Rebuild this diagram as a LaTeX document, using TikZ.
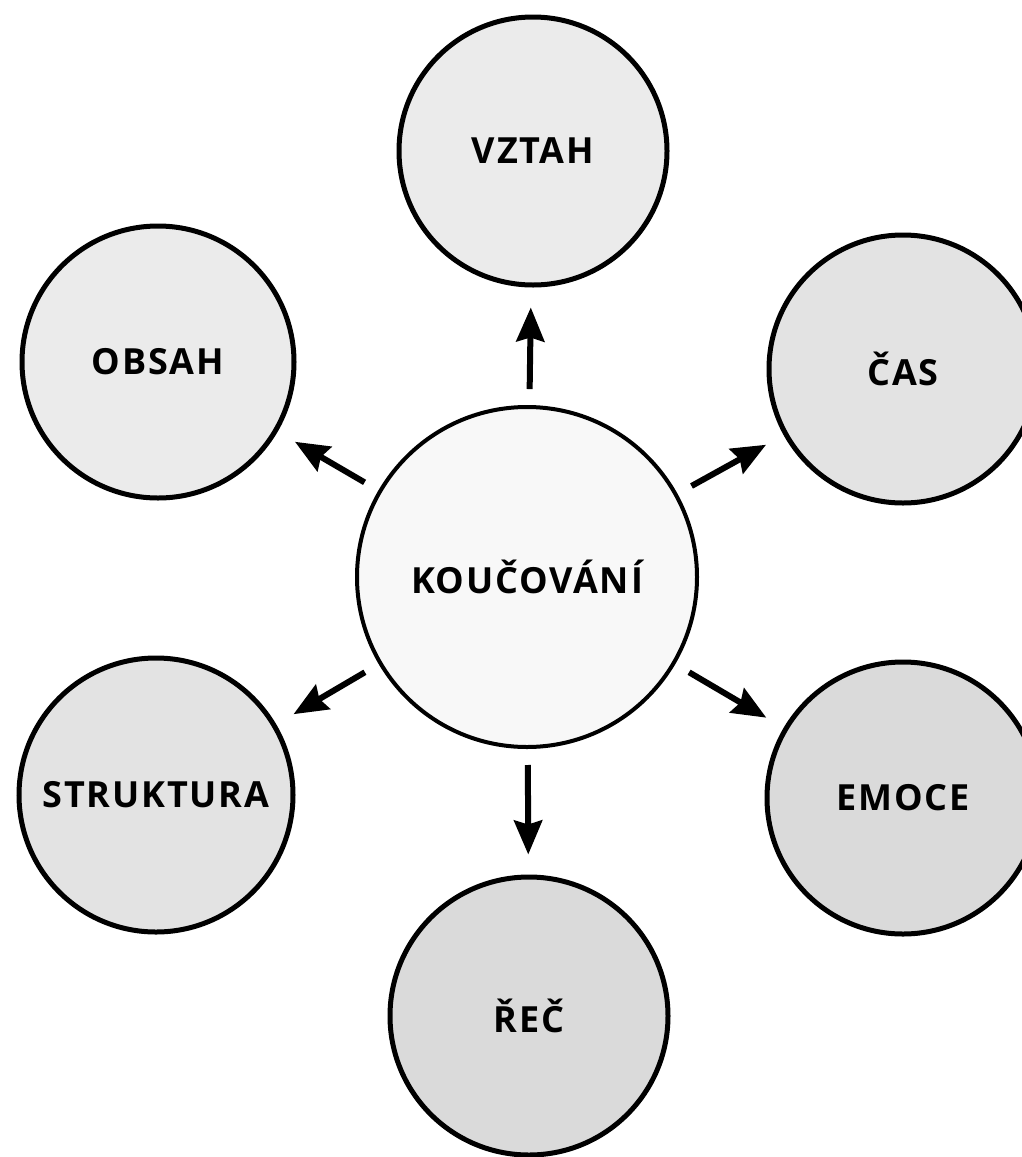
\documentclass[tikz,border=0pt]{standalone}
\usepackage{fontspec}
\setmainfont{Open Sans}
\newfontfamily\lblfont[LetterSpace=5]{Open Sans}
\usetikzlibrary{arrows.meta}
\definecolor{fillA}{HTML}{EBEBEB}
\definecolor{fillB}{HTML}{E3E3E3}
\definecolor{fillC}{HTML}{DADADA}
\definecolor{fillK}{HTML}{F8F8F8}
\tikzset{
  bubble/.style={circle, draw=black, line width=5pt, inner sep=0pt,
    font=\lblfont\bfseries\fontsize{36}{40}\selectfont},
  hub/.style={circle, draw=black, line width=4pt, inner sep=0pt, fill=fillK,
    minimum size=340pt, font=\lblfont\bfseries\fontsize{36}{40}\selectfont},
  arr/.style={line width=6pt, -{Stealth[length=34pt,width=28pt,inset=4pt]},
    shorten <=16pt, shorten >=20pt}
}
\begin{document}
\begin{tikzpicture}[x=1pt,y=-1pt]
\useasboundingbox (0,0) rectangle (1021,1157);
\node[hub] (K) at (527,577) {KOUČOVÁNÍ};
\node[bubble, fill=fillA, minimum size=268pt] (V) at (533,151) {VZTAH};
\node[bubble, fill=fillA, minimum size=272pt] (O) at (158,362) {OBSAH};
\node[bubble, fill=fillB, minimum size=268pt] (C) at (903,369) {ČAS};
\node[bubble, fill=fillB, minimum size=274pt] (S) at (156,795) {STRUKTURA};
\node[bubble, fill=fillC, minimum size=272pt] (E) at (903,798) {EMOCE};
\node[bubble, fill=fillC, minimum size=278pt] (R) at (529,1016) {ŘEČ};
\draw[arr] (K) -- (V);
\draw[arr] (K) -- (O);
\draw[arr] (K) -- (C);
\draw[arr] (K) -- (S);
\draw[arr] (K) -- (E);
\draw[arr] (K) -- (R);
\end{tikzpicture}
\end{document}
